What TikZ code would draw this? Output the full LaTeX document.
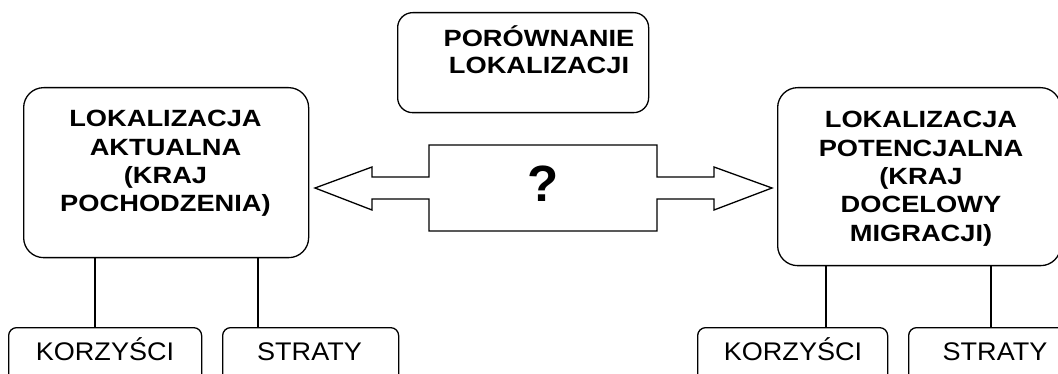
\documentclass[tikz,border=0pt]{standalone}
\usepackage{fontspec}
\setmainfont{Liberation Sans}
\newfontfamily\boldfont{Liberation Sans}[FakeStretch=1.16]
\newfontfamily\regfont{Liberation Sans}[FakeStretch=1.06]
\newfontfamily\qfont{Liberation Sans}
\begin{document}
\begin{tikzpicture}[x=1pt,y=-1pt,
  bx/.style={draw, line width=1.3pt, inner sep=0pt, anchor=north west},
  bigbox/.style={bx, rounded corners=20pt},
  topbox/.style={bx, rounded corners=15pt},
  smallbox/.style={bx, rounded corners=8pt},
  btxt/.style={anchor=base, inner sep=0pt, align=center, font=\boldfont\bfseries\fontsize{23.5}{28.3}\selectfont},
  rtxt/.style={anchor=base, inner sep=0pt, font=\regfont\fontsize{25.5}{30}\selectfont},
  conn/.style={line width=1.3pt},
  bigarrow/.style={draw, line width=1.3pt, line join=miter}
]
\useasboundingbox (0,0) rectangle (1058,374);
\clip (0,0) rectangle (1058,374);

% main boxes
\node[bigbox, minimum width=285pt, minimum height=170pt] (lb) at (23,87) {};
\node[bigbox, minimum width=283pt, minimum height=178pt] (rb) at (777,87) {};
\node[topbox, minimum width=251pt, minimum height=100pt] (tb) at (397,12) {};

% bottom boxes
\node[smallbox, minimum width=193pt, minimum height=70pt] (lk) at (8,327) {};
\node[smallbox, minimum width=176pt, minimum height=70pt] (ls) at (222,327) {};
\node[smallbox, minimum width=190pt, minimum height=70pt] (rk) at (697,327) {};
\node[smallbox, minimum width=176pt, minimum height=70pt] (rs) at (908,327) {};

% texts (base anchor = baseline of the last line)
\node[btxt] (lbt) at (165.5,211.9) {LOKALIZACJA\\AKTUALNA\\(KRAJ\\POCHODZENIA)};
\node[btxt] (rbt) at (921,241.2) {LOKALIZACJA\\POTENCJALNA\\(KRAJ\\DOCELOWY\\MIGRACJI)};
\node[btxt, font=\boldfont\bfseries\fontsize{23.5}{26.5}\selectfont] (tbt) at (539,73.5) {PORÓWNANIE\\LOKALIZACJI};
\node[rtxt] (lkt) at (105,360.7) {KORZYŚCI};
\node[rtxt] (lst) at (309.5,360.7) {STRATY};
\node[rtxt] (rkt) at (793,360.7) {KORZYŚCI};
\node[rtxt] (rst) at (995,360.7) {STRATY};

% connectors
\coordinate (x1) at (95,0);
\coordinate (x2) at (258,0);
\coordinate (x3) at (826,0);
\coordinate (x4) at (991,0);
\draw[conn] (x1 |- lb.south) -- (x1 |- lk.north);
\draw[conn] (x2 |- lb.south) -- (x2 |- ls.north);
\draw[conn] (x3 |- rb.south) -- (x3 |- rk.north);
\draw[conn] (x4 |- rb.south) -- (x4 |- rs.north);

% double arrow with central box
\draw[bigarrow] (315,188) -- (372,167) -- (372,177) -- (429,177) -- (429,145)
  -- (657,145) -- (657,177) -- (714,177) -- (714,167) -- (772,188)
  -- (714,210) -- (714,199) -- (657,199) -- (657,231) -- (429,231)
  -- (429,199) -- (372,199) -- (372,210) -- cycle;
\node[anchor=base, inner sep=0pt, font=\qfont\bfseries\fontsize{51}{51}\selectfont] (q) at (543,202) {?};
\end{tikzpicture}
\end{document}
